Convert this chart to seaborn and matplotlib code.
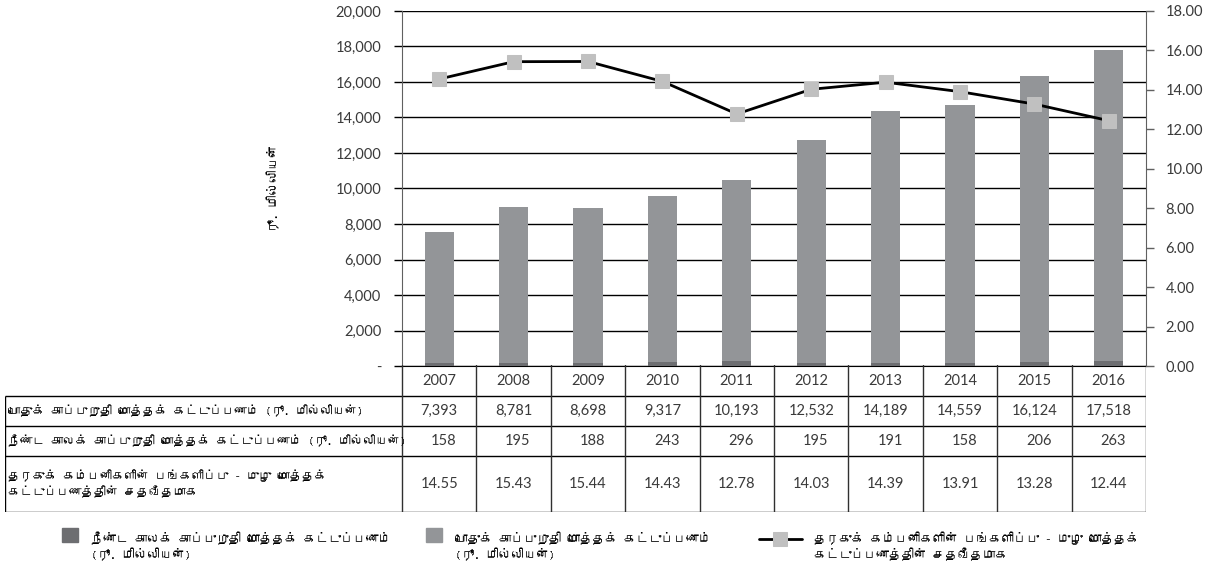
import numpy as np
import pandas as pd
import matplotlib
matplotlib.use("Agg")
import matplotlib.pyplot as plt
import seaborn as sns
from matplotlib import font_manager as fm
from matplotlib.ticker import FuncFormatter, MultipleLocator
from matplotlib.legend_handler import HandlerPatch, HandlerLine2D

# ------------------------------
# Data
# ------------------------------
years = ["2007", "2008", "2009", "2010", "2011", "2012", "2013", "2014", "2015", "2016"]
general_premium = [7393, 8781, 8698, 9317, 10193, 12532, 14189, 14559, 16124, 17518]
long_term_premium = [158, 195, 188, 243, 296, 195, 191, 158, 206, 263]
broker_share = [14.55, 15.43, 15.44, 14.43, 12.78, 14.03, 14.39, 13.91, 13.28, 12.44]

row_labels = [
    "பொதுக் காப்புறுதி மொத்தக் கட்டுப்பணம் (ரூ. மில்லியன்)",
    "நீண்ட காலக் காப்புறுதி மொத்தக் கட்டுப்பணம் (ரூ. மில்லியன்)",
    "தரகுக் கம்பனிகளின் பங்களிப்பு - முழு மொத்தக்\nகட்டுப்பணத்தின் சதவீதமாக",
]
legend_labels = [
    "நீண்ட காலக் காப்புறுதி மொத்தக் கட்டுப்பணம்\n(ரூ. மில்லியன்)",
    "பொதுக் காப்புறுதி மொத்தக் கட்டுப்பணம்\n(ரூ. மில்லியன்)",
    "தரகுக் கம்பனிகளின் பங்களிப்பு - முழு மொத்தக்\nகட்டுப்பணத்தின் சதவீதமாக",
]
y_label = "ரூ. மில்லியன்"

GENERAL_GREY = "#939598"
LONG_GREY = "#6d6e71"
MARKER_GREY = "#c0c0c0"
TEXT = "#3a3a3a"


def find_tamil_font():
    # look for any installed font that has Tamil glyphs
    try:
        from fontTools.ttLib import TTFont
    except ImportError:
        return None
    for f in fm.fontManager.ttflist:
        if "CJK" in f.name:
            continue
        try:
            cmap = TTFont(f.fname, fontNumber=0, lazy=True).getBestCmap()
        except Exception:
            continue
        if cmap and 0x0BA4 in cmap:
            return f.name
    return None


sns.set_style("white")
plt.rcParams["font.family"] = ["Lato", "DejaVu Sans"]
tamil = find_tamil_font()
TAMIL_FAMILY = ([tamil] if tamil else []) + ["Lato", "DejaVu Sans"]

HANDLE_SHIFT = 0.9  # in units of fontsize


# legend handles sit on the first line of a two-line label
class FirstLinePatch(HandlerPatch):
    def create_artists(self, legend, orig_handle, xdescent, ydescent, width, height, fontsize, trans):
        return super().create_artists(legend, orig_handle, xdescent, ydescent - HANDLE_SHIFT * fontsize,
                                      width, height, fontsize, trans)


class FirstLineLine(HandlerLine2D):
    def create_artists(self, legend, orig_handle, xdescent, ydescent, width, height, fontsize, trans):
        return super().create_artists(legend, orig_handle, xdescent, ydescent - HANDLE_SHIFT * fontsize,
                                      width, height, fontsize, trans)


W, H = 1218, 574
fig = plt.figure(figsize=(W / 100, H / 100), dpi=100)

# plot area in pixels: x 402..1146, y 11..366
ax = fig.add_axes([402 / W, (H - 366) / H, 744 / W, 355 / H])

df = pd.DataFrame({"year": years, "general": general_premium, "long": long_term_premium})
df["total"] = df["general"] + df["long"]

sns.barplot(data=df, x="year", y="total", color=GENERAL_GREY, saturation=1,
            width=0.39, ax=ax, zorder=3, edgecolor="none", linewidth=0)
sns.barplot(data=df, x="year", y="long", color=LONG_GREY, saturation=1,
            width=0.39, ax=ax, zorder=3, edgecolor="none", linewidth=0)

ax.set_ylim(0, 20000)
ax.yaxis.set_major_locator(MultipleLocator(2000))
ax.yaxis.set_major_formatter(FuncFormatter(lambda v, p: "-" if v == 0 else f"{v:,.0f}"))
ax.yaxis.grid(True, color="black", lw=1)
ax.set_axisbelow(True)
ax.tick_params(axis="y", direction="out", length=6, width=1, color="black",
               pad=9, labelsize=10.5, labelcolor=TEXT, left=True)
ax.tick_params(axis="x", length=0, labelbottom=False)
ax.set_xlabel("")
ax.set_ylabel(y_label, fontsize=9, color="black", family=TAMIL_FAMILY)
ax.yaxis.set_label_coords(-0.164, 0.50)
for side in ["top", "right"]:
    ax.spines[side].set_visible(False)
ax.spines["left"].set_color("#606060")
ax.spines["bottom"].set_color("black")

# share of broker companies on secondary axis
ax2 = ax.twinx()
sns.lineplot(x=np.arange(len(years)), y=broker_share, ax=ax2, color="black", lw=2,
             marker="s", markersize=10, markerfacecolor=MARKER_GREY,
             markeredgecolor=MARKER_GREY, zorder=5)
ax2.set_ylim(0, 18)
ax2.yaxis.set_major_locator(MultipleLocator(2))
ax2.yaxis.set_major_formatter(FuncFormatter(lambda v, p: f"{v:.2f}"))
ax2.tick_params(axis="y", direction="out", length=6, width=1, color="#606060",
                pad=8, labelsize=10.5, labelcolor=TEXT)
for side in ["top", "left", "bottom"]:
    ax2.spines[side].set_visible(False)
ax2.spines["right"].set_color("#606060")
ax2.set_ylabel("")
ax.set_xlim(-0.5, len(years) - 0.5)

# ------------------------------
# Data table under the chart
# ------------------------------
px_per_unit = 744 / len(years)
left_edge = -0.5 - (402 - 5) / px_per_unit
tax = fig.add_axes([5 / W, (H - 512) / H, (1146 - 5) / W, (512 - 365) / H])
tax.set_xlim(left_edge, len(years) - 0.5)
tax.set_ylim(512, 365)
tax.axis("off")

lc = dict(color="black", lw=1, solid_capstyle="butt")
for y in [396, 426, 456, 512]:
    tax.plot([left_edge, len(years) - 0.5], [y, y], **lc)
tax.plot([left_edge, left_edge], [396, 512], **lc)
for i in range(len(years) + 1):
    tax.plot([i - 0.5, i - 0.5], [365, 512], color="#303030", lw=1)

fs = 10.5
for i, yr in enumerate(years):
    tax.text(i, 381, yr, ha="center", va="center", fontsize=fs, color=TEXT)
    tax.text(i, 411, f"{general_premium[i]:,}", ha="center", va="center", fontsize=fs, color=TEXT)
    tax.text(i + 0.23, 441, f"{long_term_premium[i]:,}", ha="right", va="center", fontsize=fs, color=TEXT)
    tax.text(i, 484, f"{broker_share[i]:.2f}", ha="center", va="center", fontsize=fs, color=TEXT)

label_x = left_edge + 3 / px_per_unit
for y, lab in zip([411, 441, 484], row_labels):
    tax.text(label_x, y, lab, ha="left", va="center", fontsize=8.8, color="black",
             linespacing=1.3, family=TAMIL_FAMILY)

# ------------------------------
# Legend
# ------------------------------
long_handle = plt.Rectangle((0, 0), 1, 1, color=LONG_GREY)
gen_handle = plt.Rectangle((0, 0), 1, 1, color=GENERAL_GREY)
line_handle = ax2.lines[0]

entries = [(long_handle, legend_labels[0], 62, 1.3, FirstLinePatch()),
           (gen_handle, legend_labels[1], 426, 1.3, FirstLinePatch()),
           (line_handle, legend_labels[2], 759, 3.4, FirstLineLine())]
for handle, lab, x, hl, handler in entries:
    fig.legend(handles=[handle], labels=[lab], loc="upper left",
               bbox_to_anchor=(x / W, (H - 532) / H), frameon=False,
               handlelength=hl, handleheight=1.3, handletextpad=1.0,
               borderaxespad=0, borderpad=0, labelcolor="black",
               handler_map={handle: handler},
               prop={"family": TAMIL_FAMILY, "size": 9})

plt.savefig("out.png", dpi=100)
plt.close()
